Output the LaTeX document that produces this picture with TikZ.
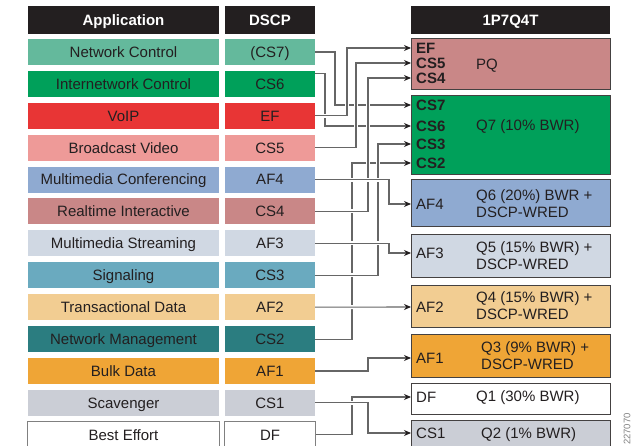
\documentclass[tikz,border=0pt]{standalone}
\usepackage{fontspec}
\setmainfont{Liberation Sans}
\usetikzlibrary{arrows.meta,backgrounds}

\definecolor{ink}{HTML}{231F20}
\definecolor{wiregray}{HTML}{666666}
\definecolor{cNetCtl}{HTML}{64B99C}
\definecolor{cInterCtl}{HTML}{00A05A}
\definecolor{cVoip}{HTML}{E83535}
\definecolor{cBroad}{HTML}{EE9A98}
\definecolor{cConf}{HTML}{8FAAD1}
\definecolor{cRealtime}{HTML}{C98787}
\definecolor{cStream}{HTML}{D0D8E3}
\definecolor{cSignal}{HTML}{6AAABF}
\definecolor{cTrans}{HTML}{F2CD92}
\definecolor{cNetMgmt}{HTML}{2B7D80}
\definecolor{cBulk}{HTML}{EFA536}
\definecolor{cScav}{HTML}{CBCED6}

\newcommand{\rowfont}{\fontsize{15}{17}\selectfont}

\begin{document}
\begin{tikzpicture}[x=1pt, y=-1pt, >={Stealth[length=7pt,width=6pt,color=ink]},
		font=\rowfont, text=ink,
		head/.style={fill=ink, text=white, font=\rowfont\bfseries, minimum height=28pt, inner sep=0pt, text height=10.7pt, text depth=0pt},
		cell/.style={minimum height=26pt, inner sep=0pt, text height=10.7pt, text depth=0pt},
		queue/.style={draw=ink!85, line width=1pt, anchor=north west, minimum width=199pt, inner sep=0pt},
		qlabel/.style={anchor=west, inner sep=0pt},
		bold/.style={font=\rowfont\bfseries},
		qtext/.style={anchor=west, align=left, inner sep=0pt},
		link/.style={draw=wiregray, line width=1.1pt, ->, preaction={draw=white, line width=4pt, arrows=-}}]
		\useasboundingbox (0,0) rectangle (635,446);
		% application / dscp table
		\node[head, minimum width=191pt] (HA) at (123.5,20) {Application};
		\node[head, minimum width=90pt] (HD) at (270,20) {DSCP};
		\foreach \app/\code/\col [count=\i] in {Network Control/{(CS7)}/cNetCtl, Internetwork Control/CS6/cInterCtl, VoIP/EF/cVoip, Broadcast Video/CS5/cBroad, Multimedia Conferencing/AF4/cConf, Realtime Interactive/CS4/cRealtime, Multimedia Streaming/AF3/cStream, Signaling/CS3/cSignal, Transactional Data/AF2/cTrans, Network Management/CS2/cNetMgmt, Bulk Data/AF1/cBulk, Scavenger/CS1/cScav, Best Effort/DF/white} {
			\node[cell, fill=\col, minimum width=191pt] (A\i) at (123.5,{52+31.9*(\i-1)}) {\app};
			\node[cell, fill=\col, minimum width=90pt] (D\i) at (270,{52+31.9*(\i-1)}) {\code};
		}
		% best effort row is outlined
		\draw[gray, line width=1pt] (A13.south west) rectangle (A13.north east) (D13.south west) rectangle (D13.north east);
		% queues
		\node[head, minimum width=199pt] (HQ) at (510.5,20) {1P7Q4T};
		\node[queue, fill=cRealtime, minimum height=51pt] (PQ) at (411,38) {};
		\node[queue, fill=cInterCtl, minimum height=79pt] (Q7) at (411,95) {};
		\node[queue, fill=cConf, minimum height=47pt] (Q6) at (411,179) {};
		\node[queue, fill=cStream, minimum height=43pt] (Q5) at (411,234) {};
		\node[queue, fill=cTrans, minimum height=42pt] (Q4) at (411,285) {};
		\node[queue, fill=cBulk, minimum height=43pt] (Q3) at (411,334) {};
		\node[queue, fill=white, minimum height=31pt] (Q1) at (411,383) {};
		\node[queue, fill=cScav, minimum height=32pt] (Q2) at (411,420) {};
		% markings entering each queue
		\node[qlabel, bold] (EF) at (416,48) {EF};
		\node[qlabel, bold] (CS5) at (416,63) {CS5};
		\node[qlabel, bold] (CS4) at (416,78) {CS4};
		\node[qlabel, bold] (CS7) at (416,105) {CS7};
		\node[qlabel, bold] (CS6) at (416,126) {CS6};
		\node[qlabel, bold] (CS3) at (416,144) {CS3};
		\node[qlabel, bold] (CS2) at (416,163) {CS2};
		\node[qlabel] (AF4) at (416,204) {AF4};
		\node[qlabel] (AF3) at (416,253) {AF3};
		\node[qlabel] (AF2) at (416,307) {AF2};
		\node[qlabel] (AF1) at (416,358) {AF1};
		\node[qlabel] (DF) at (416,397) {DF};
		\node[qlabel] (CS1) at (416,433) {CS1};
		\node[qtext] (tPQ) at (476,66) {PQ};
		\node[qtext] (tQ7) at (476,127) {Q7 (10\% BWR)};
		\node[qtext] (tQ6) at (476,204) {Q6 (20\%) BWR +\\DSCP-WRED};
		\node[qtext] (tQ5) at (476,256) {Q5 (15\% BWR) +\\DSCP-WRED};
		\node[qtext] (tQ4) at (476,306) {Q4 (15\% BWR) +\\DSCP-WRED};
		\node[qtext] (tQ3) at (481,356) {Q3 (9\% BWR) +\\DSCP-WRED};
		\node[qtext] (tQ1) at (476,398) {Q1 (30\% BWR)};
		\node[qtext] (tQ2) at (481,435) {Q2 (1\% BWR)};
		\node[rotate=90, font=\fontsize{9.5}{10}\selectfont, text=gray] (id) at (627,429) {227070};
		% connectors (later ones cut the earlier ones)
		\begin{scope}[on background layer]
			\draw[link] (D1.east) -| (335,0 |- CS7) -- (Q7.west |- CS7);
			\draw[link] ([yshift=10pt]D2.east) -| (325,0 |- CS6) -- (Q7.west |- CS6);
			\draw[link] (D10.east) -| (352,0 |- CS2) -- (Q7.west |- CS2);
			\draw[link] (D3.east) -| (347,0 |- EF) -- (PQ.west |- EF);
			\draw[link] (D4.east) -| (356,0 |- CS5) -- (PQ.west |- CS5);
			\draw[link] (D6.east) -| (368,0 |- CS4) -- (PQ.west |- CS4);
			\draw[link] (D8.east) -| (378,0 |- CS3) -- (Q7.west |- CS3);
			\draw[link] (D13.east) -| (352,0 |- DF) -- (Q1.west |- DF);
			\draw[link] (D5.east) -| (389,0 |- AF4) -- (Q6.west |- AF4);
			\draw[link] (D7.east) -| (389,0 |- AF3) -- (Q5.west |- AF3);
			\draw[link] (D9.east) -- (Q4.west |- AF2);
			\draw[link] (D11.east) -| (368,0 |- AF1) -- (Q3.west |- AF1);
			\draw[link] (D12.east) -| (368,0 |- CS1) -- (Q2.west |- CS1);
		\end{scope}
	\end{tikzpicture}
\end{document}
